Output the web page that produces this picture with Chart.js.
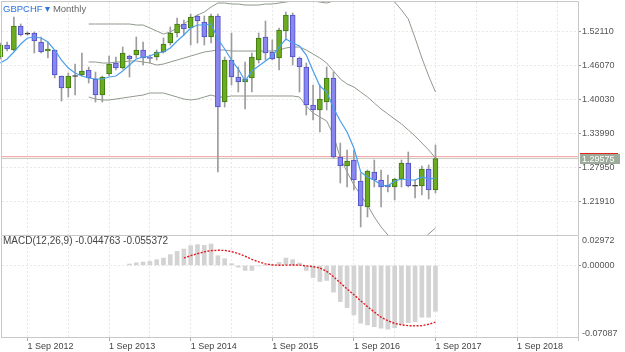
<!DOCTYPE html>
<html>
<head>
<meta charset="utf-8">
<script src="https://cdn.jsdelivr.net/npm/chart.js@4.4.0/dist/chart.umd.min.js"></script>
<style>
  body { margin: 0; background: #fff; width: 625px; height: 352px; overflow: hidden; position: relative; font-family: "Liberation Sans", Arial, sans-serif; }
  canvas { position: absolute; left: 0; }
  #main-chart { top: 0; }
  #macd-chart { top: 235px; }
  .caption { position: absolute; left: 3px; white-space: nowrap; }
  #title { top: 3px; font-size: 9.5px; line-height: 12px; }
  #title .sym { color: #2a72de; }
  #title .tf { color: #666; }
  #macd-label { top: 235px; font-size: 10px; line-height: 11px; color: #444; }
</style>
</head>
<body>
<canvas id="main-chart" width="625" height="235"></canvas>
<canvas id="macd-chart" width="625" height="117"></canvas>
<div id="title" class="caption"><span class="sym">GBPCHF ▾</span> <span class="tf">Monthly</span></div>
<div id="macd-label" class="caption"></div>
<script>
// monthly candles, May 2012 .. Sep 2017
const months = [
  '2012-05','2012-06','2012-07','2012-08','2012-09','2012-10','2012-11','2012-12',
  '2013-01','2013-02','2013-03','2013-04','2013-05','2013-06','2013-07','2013-08','2013-09','2013-10','2013-11','2013-12',
  '2014-01','2014-02','2014-03','2014-04','2014-05','2014-06','2014-07','2014-08','2014-09','2014-10','2014-11','2014-12',
  '2015-01','2015-02','2015-03','2015-04','2015-05','2015-06','2015-07','2015-08','2015-09','2015-10','2015-11','2015-12',
  '2016-01','2016-02','2016-03','2016-04','2016-05','2016-06','2016-07','2016-08','2016-09','2016-10','2016-11','2016-12',
  '2017-01','2017-02','2017-03','2017-04','2017-05','2017-06','2017-07','2017-08','2017-09'
];
const opens = [
  1.4762, 1.4975, 1.4886, 1.5312, 1.5180, 1.5188, 1.5028, 1.4868,
  1.4886, 1.4424, 1.4211, 1.4428, 1.4442, 1.4531, 1.4371, 1.4086, 1.4460, 1.4655, 1.4566, 1.4779,
  1.4797, 1.4886, 1.4755, 1.4762, 1.4850, 1.5010, 1.5188, 1.5348, 1.5277, 1.5490, 1.5383, 1.5117,
  1.5490, 1.3962, 1.4708, 1.4406, 1.4317, 1.4389, 1.4708, 1.5117, 1.4850, 1.4744, 1.5223, 1.5508,
  1.4744, 1.4584, 1.3909, 1.3820, 1.3962, 1.4389, 1.2985, 1.2825, 1.2932, 1.2559, 1.2097, 1.2719,
  1.2577, 1.2488, 1.2452, 1.2594, 1.2878, 1.2475, 1.2470, 1.2772, 1.2399
];
const highs = [
  1.5010, 1.5028, 1.5472, 1.5348, 1.5206, 1.5206, 1.5117, 1.5028,
  1.4886, 1.4424, 1.4477, 1.4637, 1.4833, 1.4584, 1.4495, 1.4424, 1.4779, 1.4762, 1.4939, 1.4797,
  1.5117, 1.5028, 1.4797, 1.4886, 1.5099, 1.5295, 1.5454, 1.5419, 1.5525, 1.5508, 1.5490, 1.5525,
  1.5525, 1.4762, 1.5188, 1.4584, 1.4673, 1.4833, 1.5188, 1.5401, 1.5064, 1.5277, 1.5561, 1.5543,
  1.4762, 1.4655, 1.4264, 1.4264, 1.4584, 1.4495, 1.3234, 1.3110, 1.3110, 1.2701, 1.2754, 1.2932,
  1.2754, 1.2665, 1.2612, 1.2932, 1.3074, 1.2577, 1.2825, 1.2843, 1.3199
];
const lows = [
  1.4726, 1.4868, 1.4868, 1.5135, 1.5152, 1.4833, 1.4833, 1.4744,
  1.4389, 1.3980, 1.4051, 1.4086, 1.4424, 1.4300, 1.3962, 1.3962, 1.4424, 1.4531, 1.4548, 1.4406,
  1.4744, 1.4619, 1.4655, 1.4708, 1.4833, 1.4975, 1.5117, 1.5152, 1.4975, 1.5010, 1.4975, 1.5010,
  1.2719, 1.3873, 1.4264, 1.4140, 1.3838, 1.4140, 1.4655, 1.4708, 1.4708, 1.4531, 1.5064, 1.4619,
  1.4140, 1.3731, 1.3642, 1.3429, 1.3820, 1.2967, 1.2523, 1.2452, 1.2399, 1.1742, 1.1919, 1.2452,
  1.2097, 1.2363, 1.2221, 1.2452, 1.2452, 1.2257, 1.2310, 1.2239, 1.2345
];
const closes = [
  1.4975, 1.4904, 1.5312, 1.5152, 1.5168, 1.5046, 1.4850, 1.4904,
  1.4442, 1.4211, 1.4424, 1.4415, 1.4513, 1.4389, 1.4086, 1.4406, 1.4637, 1.4566, 1.4833, 1.4726,
  1.4886, 1.4744, 1.4737, 1.4850, 1.4993, 1.5188, 1.5348, 1.5259, 1.5472, 1.5401, 1.5117, 1.5490,
  1.3873, 1.4708, 1.4406, 1.4317, 1.4371, 1.4762, 1.5099, 1.4833, 1.4726, 1.5241, 1.5508, 1.4762,
  1.4584, 1.3909, 1.3820, 1.4015, 1.4389, 1.2985, 1.2825, 1.2914, 1.2577, 1.2115, 1.2736, 1.2577,
  1.2452, 1.2452, 1.2594, 1.2878, 1.2470, 1.2465, 1.2772, 1.2399, 1.29575
];
// blue moving average
const sma5 = [
  1.4655, 1.4726, 1.4850, 1.4993, 1.5099, 1.5117, 1.5099, 1.5028,
  1.4886, 1.4708, 1.4566, 1.4477, 1.4424, 1.4389, 1.4371, 1.4371, 1.4406, 1.4424, 1.4513, 1.4619,
  1.4726, 1.4762, 1.4779, 1.4833, 1.4850, 1.4922, 1.5046, 1.5152, 1.5277, 1.5330, 1.5330, 1.5348,
  1.5081, 1.4904, 1.4708, 1.4548, 1.4335, 1.4513, 1.4602, 1.4691, 1.4779, 1.4939, 1.5081, 1.5010,
  1.4957, 1.4797, 1.4513, 1.4246, 1.4140, 1.3856, 1.3625, 1.3429, 1.3145, 1.2719, 1.2630, 1.2577,
  1.2488, 1.2470, 1.2559, 1.2594, 1.2577, 1.2577, 1.2630, 1.2594, 1.2612
];
// bollinger bands (gray)
const bbUpper = [
  null, null, null, null, null, null, null, null,
  null, null, null, null, null, 1.5348, 1.5348, 1.5348, 1.5348, 1.5348, 1.5348, 1.5348,
  1.5330, 1.5330, 1.5277, 1.5223, 1.5170, 1.5206, 1.5277, 1.5348, 1.5437, 1.5508, 1.5561, 1.5650,
  1.5721, 1.5721, 1.5703, 1.5703, 1.5685, 1.5685, 1.5685, 1.5703, 1.5703, 1.5721, 1.5739, 1.5756,
  1.5774, 1.5774, 1.5756, 1.5739, 1.5721, 1.5756, 1.5863, 1.5987, 1.6094, 1.6130, 1.6130, 1.6094,
  1.5987, 1.5863, 1.5739, 1.5597, 1.5437, 1.5099, 1.4744, 1.4424, 1.4140
];
const bbMiddle = [
  null, null, null, null, null, null, null, null,
  null, null, null, null, null, 1.4673, 1.4673, 1.4655, 1.4655, 1.4673, 1.4673, 1.4691,
  1.4691, 1.4673, 1.4655, 1.4619, 1.4637, 1.4673, 1.4708, 1.4744, 1.4779, 1.4815, 1.4850, 1.4868,
  1.4886, 1.4886, 1.4868, 1.4868, 1.4868, 1.4868, 1.4868, 1.4868, 1.4868, 1.4886, 1.4922, 1.4939,
  1.4939, 1.4886, 1.4815, 1.4744, 1.4655, 1.4513, 1.4371, 1.4282, 1.4229, 1.4140, 1.4051, 1.3944,
  1.3838, 1.3749, 1.3660, 1.3571, 1.3465, 1.3358, 1.3234, 1.3110, 1.2967
];
const bbLower = [
  null, null, null, null, null, null, null, null,
  null, null, null, null, null, 1.4051, 1.4015, 1.3998, 1.3998, 1.4015, 1.4033, 1.4051,
  1.4069, 1.4086, 1.4122, 1.4122, 1.4122, 1.4086, 1.4051, 1.4015, 1.3998, 1.4015, 1.4051, 1.4086,
  1.4051, 1.4051, 1.4069, 1.4069, 1.4069, 1.4069, 1.4069, 1.4069, 1.4069, 1.4069, 1.4069, 1.4069,
  1.4051, 1.3891, 1.3767, 1.3696, 1.3625, 1.3376, 1.2967, 1.2719, 1.2488, 1.2310, 1.2132, 1.1919,
  1.1742, 1.1600, 1.1475, 1.1404, 1.1386, 1.1422, 1.1511, 1.1617, 1.1724
];
// MACD(12,26,9): gray bars = macd line, red dashes = signal
const macdValues = [
  null, null, null, null, null, null, null, null,
  null, null, null, null, null, null, null, null, null, null, null, 0.0014,
  0.0026, 0.0033, 0.0039, 0.0056, 0.0072, 0.0105, 0.0137, 0.0160, 0.0193, 0.0203, 0.0196, 0.0209,
  0.0095, 0.0066, 0.0017, -0.0017, -0.0049, -0.0049, -0.0004, 0.0002, 0.0010, 0.0029, 0.0072, 0.0056,
  0.0023, -0.0049, -0.0118, -0.0157, -0.0147, -0.0261, -0.0353, -0.0412, -0.0483, -0.0564, -0.0581, -0.0598,
  -0.0613, -0.0623, -0.0608, -0.0571, -0.0559, -0.0549, -0.0506, -0.0506, -0.044763
];
const macdSignal = [
  null, null, null, null, null, null, null, null,
  null, null, null, null, null, null, null, null, null, null, null, null,
  null, null, null, null, null, null, null, 0.0073, 0.0095, 0.0115, 0.0133, 0.0145,
  0.0148, 0.0147, 0.0135, 0.0117, 0.0090, 0.0060, 0.0035, 0.0015, 0.0004, 0.0002, 0.0003, 0.0004,
  0.0003, -0.0004, -0.0012, -0.0025, -0.0057, -0.0110, -0.0170, -0.0230, -0.0287, -0.0345, -0.0402, -0.0455,
  -0.0506, -0.0540, -0.0566, -0.0580, -0.0588, -0.0590, -0.0588, -0.0575, -0.055372
];
const priceTicks = [1.21910, 1.27950, 1.33990, 1.40030, 1.46070, 1.52110];
const yearLabels = ['1 Sep 2012', '1 Sep 2013', '1 Sep 2014', '1 Sep 2015', '1 Sep 2016', '1 Sep 2017', '1 Sep 2018'];
const gridMonths = [0, 6, 12, 18, 24, 30, 36, 42, 48, 54, 60, 66, 72, 78];
const lastPrice = 1.29575;
const askPrice = 1.2991;

const X_MIN = -3.75, X_MAX = 80.96;
const Y_MIN = 1.15994, Y_MAX = 1.57390;
const MACD_MIN = -0.07087, MACD_MAX = 0.02972;

const FONT = '"Liberation Sans", Arial, sans-serif';
const GRID = '#e8e8e8';
const UP = '#6aab22', UP_EDGE = '#3e7a0c';
const DOWN = '#8787ef', DOWN_EDGE = '#4f4fc4';
const DOJI = '#333333';
const BAND = '#8e998b';

// month offset from 1 Sep 2012
function monthIndex(m) {
  const [y, mo] = m.split('-').map(Number);
  return (y - 2012) * 12 + (mo - 9);
}
const xs = months.map(monthIndex);
const pts = arr => arr.map((v, i) => ({ x: xs[i], y: v })).filter(p => p.y !== null);

function candleFill(i) {
  const d = closes[i] - opens[i];
  if (Math.abs(d) < 0.0015) return DOJI;
  return d > 0 ? UP : DOWN;
}
function candleEdge(i) {
  const d = closes[i] - opens[i];
  if (Math.abs(d) < 0.0015) return DOJI;
  return d > 0 ? UP_EDGE : DOWN_EDGE;
}

const framePlugin = {
  id: 'frame',
  afterDraw(chart, args, opts) {
    const { ctx, chartArea: a } = chart;
    ctx.save();
    ctx.strokeStyle = '#c8c8c8';
    ctx.lineWidth = 1;
    ctx.beginPath();
    const top = opts.flushTop ? a.top + 0.5 : a.top - 0.5;
    ctx.moveTo(a.left - 0.5, a.bottom);
    ctx.lineTo(a.left - 0.5, top);
    ctx.lineTo(a.right + 0.5, top);
    ctx.lineTo(a.right + 0.5, a.bottom + (opts.bottom ? 3 : 0));
    if (opts.bottom) {
      ctx.moveTo(a.left - 0.5, a.bottom - 0.5);
      ctx.lineTo(a.right + 0.5, a.bottom - 0.5);
    }
    ctx.stroke();
    ctx.restore();
  }
};

const priceTagPlugin = {
  id: 'priceTag',
  afterDraw(chart) {
    const { ctx, chartArea: a } = chart;
    const py = Math.round(chart.scales.y.getPixelForValue(lastPrice));
    ctx.save();
    ctx.fillStyle = '#9dab9b';
    ctx.fillRect(a.right + 2, py - 5, 40, 10);
    ctx.fillStyle = '#e2231c';
    ctx.fillRect(a.right + 2, py - 6, 38, 1);
    ctx.fillStyle = '#ffffff';
    ctx.font = '9px ' + FONT;
    ctx.textBaseline = 'middle';
    ctx.fillText(lastPrice.toFixed(5), a.right + 4, py + 0.5);
    ctx.restore();
  }
};

const noClip = { left: 4, top: 0, right: 0, bottom: 0 };

new Chart(document.getElementById('main-chart'), {
  type: 'bar',
  data: {
    datasets: [
      { type: 'line', data: pts(sma5), borderColor: '#4a9eee', borderWidth: 1.2, pointRadius: 0, order: 0, clip: noClip },
      {
        type: 'bar', data: months.map((m, i) => ({ x: xs[i], y: [opens[i], closes[i]] })),
        backgroundColor: c => candleFill(c.dataIndex), borderColor: c => candleEdge(c.dataIndex),
        borderWidth: 1, borderSkipped: false, barThickness: 5, minBarLength: 1, grouped: false, order: 1, clip: noClip
      },
      {
        type: 'bar', data: months.map((m, i) => ({ x: xs[i], y: [lows[i], highs[i]] })),
        backgroundColor: '#9c9c9c', borderWidth: 0, barThickness: 1, grouped: false, order: 2, clip: noClip
      },
      { type: 'line', data: pts(bbUpper), borderColor: BAND, borderWidth: 1, pointRadius: 0, order: 3 },
      { type: 'line', data: pts(bbMiddle), borderColor: BAND, borderWidth: 1, pointRadius: 0, order: 3 },
      { type: 'line', data: pts(bbLower), borderColor: BAND, borderWidth: 1, pointRadius: 0, order: 3 },
      { type: 'line', data: [{ x: X_MIN, y: askPrice }, { x: X_MAX, y: askPrice }], borderColor: '#f29c9c', borderWidth: 1, pointRadius: 0, order: 4 },
      { type: 'line', data: [{ x: X_MIN, y: lastPrice }, { x: X_MAX, y: lastPrice }], borderColor: '#c4cfc2', borderWidth: 1, pointRadius: 0, order: 4 }
    ]
  },
  options: {
    responsive: false,
    animation: false,
    events: [],
    layout: { padding: { left: 2, top: 2, right: 0, bottom: 0 } },
    plugins: { legend: { display: false }, tooltip: { enabled: false }, frame: {} },
    scales: {
      x: {
        type: 'linear', min: X_MIN, max: X_MAX, offset: false,
        afterBuildTicks: s => { s.ticks = gridMonths.map(v => ({ value: v })); },
        ticks: { display: false },
        grid: { color: GRID, drawTicks: false, offset: false },
        border: { display: false, dash: [2, 2] },
        afterFit: s => { s.height = 0; s.paddingLeft = 0; s.paddingRight = 0; }
      },
      y: {
        position: 'right', min: Y_MIN, max: Y_MAX, beginAtZero: false,
        afterBuildTicks: s => { s.ticks = priceTicks.map(v => ({ value: v })); },
        ticks: { callback: v => v.toFixed(5), color: '#555', font: { size: 9, family: FONT }, padding: 1 },
        grid: { color: GRID, tickColor: '#999', tickLength: 3, tickBorderDash: [] },
        border: { display: false, dash: [2, 2] },
        afterFit: s => { s.width = 47; s.paddingTop = 0; s.paddingBottom = 0; }
      }
    }
  },
  plugins: [framePlugin, priceTagPlugin]
});

const pxUnit = (MACD_MAX - MACD_MIN) / 103;
new Chart(document.getElementById('macd-chart'), {
  type: 'bar',
  data: {
    datasets: [
      { type: 'line', data: pts(macdSignal), borderColor: '#e5161d', borderWidth: 1.4, borderDash: [2, 1.5], pointRadius: 0, order: 0 },
      { type: 'bar', data: pts(macdValues), backgroundColor: '#d3d3d3', borderWidth: 0, barThickness: 4, order: 1 }
    ]
  },
  options: {
    responsive: false,
    animation: false,
    events: [],
    layout: { padding: { left: 2, top: 0, right: 0, bottom: 0 } },
    plugins: { legend: { display: false }, tooltip: { enabled: false }, frame: { bottom: true, flushTop: true } },
    scales: {
      x: {
        type: 'linear', min: X_MIN, max: X_MAX, offset: false,
        afterBuildTicks: s => { s.ticks = gridMonths.map(v => ({ value: v })); },
        ticks: {
          callback: v => (v % 12 === 0 ? yearLabels[v / 12] : ''),
          align: 'start', maxRotation: 0, autoSkip: false, color: '#444',
          font: { size: 9, family: FONT }, padding: 0
        },
        grid: {
          color: GRID, offset: false, tickLength: 3, tickBorderDash: [],
          tickColor: c => (c.tick && c.tick.value % 12 === 0 ? '#aaa' : 'rgba(0,0,0,0)')
        },
        border: { display: false, dash: [2, 2] },
        afterFit: s => { s.height = 14; s.paddingLeft = 0; s.paddingRight = 0; }
      },
      y: {
        position: 'right', min: MACD_MIN, max: MACD_MAX, beginAtZero: false,
        afterBuildTicks: s => {
          s.ticks = [{ value: MACD_MIN + 4 * pxUnit }, { value: 0 }, { value: MACD_MAX - 5.5 * pxUnit }];
        },
        ticks: {
          callback: (v, i) => [MACD_MIN, 0, MACD_MAX][i].toFixed(5),
          color: '#555', font: { size: 9, family: FONT }, padding: 1
        },
        grid: {
          tickLength: 3, tickBorderDash: [],
          color: c => (c.tick && c.tick.value === 0 ? GRID : 'rgba(0,0,0,0)'),
          tickColor: c => (c.tick && c.tick.value === 0 ? '#999' : 'rgba(0,0,0,0)')
        },
        border: { display: false, dash: [2, 2] },
        afterFit: s => { s.width = 47; s.paddingTop = 0; s.paddingBottom = 0; }
      }
    }
  },
  plugins: [framePlugin]
});

document.getElementById('macd-label').textContent =
  'MACD(12,26,9) ' + macdValues[macdValues.length - 1].toFixed(6) + ' ' + macdSignal[macdSignal.length - 1].toFixed(6);
</script>
</body>
</html>
